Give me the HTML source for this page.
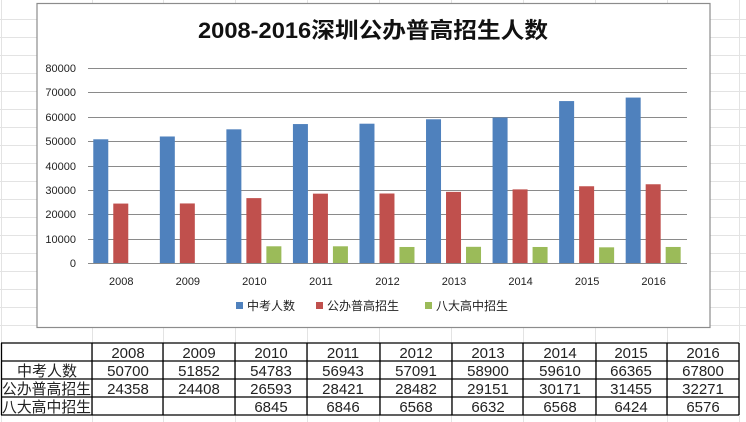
<!DOCTYPE html>
<html><head><meta charset="utf-8"><style>
body{margin:0;width:746px;height:422px;background:#fff;overflow:hidden}
svg{display:block}
</style></head><body>
<svg width="746" height="422" xmlns="http://www.w3.org/2000/svg" font-family="Liberation Sans, Noto Sans CJK SC, sans-serif">
<g stroke="#e3e3e3" stroke-width="1">
<line x1="0" y1="19.5" x2="746" y2="19.5"/><line x1="0" y1="37.5" x2="746" y2="37.5"/><line x1="0" y1="55.5" x2="746" y2="55.5"/><line x1="0" y1="73.5" x2="746" y2="73.5"/><line x1="0" y1="91.5" x2="746" y2="91.5"/><line x1="0" y1="109.5" x2="746" y2="109.5"/><line x1="0" y1="127.5" x2="746" y2="127.5"/><line x1="0" y1="145.5" x2="746" y2="145.5"/><line x1="0" y1="163.5" x2="746" y2="163.5"/><line x1="0" y1="181.5" x2="746" y2="181.5"/><line x1="0" y1="199.5" x2="746" y2="199.5"/><line x1="0" y1="217.5" x2="746" y2="217.5"/><line x1="0" y1="235.5" x2="746" y2="235.5"/><line x1="0" y1="253.5" x2="746" y2="253.5"/><line x1="0" y1="271.5" x2="746" y2="271.5"/><line x1="0" y1="289.5" x2="746" y2="289.5"/><line x1="0" y1="307.5" x2="746" y2="307.5"/><line x1="0" y1="325.5" x2="746" y2="325.5"/>
<line x1="1.5" y1="0" x2="1.5" y2="422"/><line x1="92.5" y1="0" x2="92.5" y2="422"/><line x1="163.5" y1="0" x2="163.5" y2="422"/><line x1="235.5" y1="0" x2="235.5" y2="422"/><line x1="307.5" y1="0" x2="307.5" y2="422"/><line x1="379.5" y1="0" x2="379.5" y2="422"/><line x1="451.5" y1="0" x2="451.5" y2="422"/><line x1="523.5" y1="0" x2="523.5" y2="422"/><line x1="595.5" y1="0" x2="595.5" y2="422"/><line x1="667.5" y1="0" x2="667.5" y2="422"/><line x1="739.5" y1="0" x2="739.5" y2="422"/>
</g>
<rect x="37" y="3.5" width="673" height="324" fill="#fff" stroke="#8c8c8c" stroke-width="1.2"/>
<text x="198" y="38" textLength="350" lengthAdjust="spacingAndGlyphs" font-size="22" font-weight="bold" fill="#111">2008-2016深圳公办普高招生人数</text>
<g stroke="#8a8a8a" stroke-width="1">
<line x1="88" y1="68.5" x2="687" y2="68.5"/><line x1="88" y1="92.5" x2="687" y2="92.5"/><line x1="88" y1="117.5" x2="687" y2="117.5"/><line x1="88" y1="141.5" x2="687" y2="141.5"/><line x1="88" y1="166.5" x2="687" y2="166.5"/><line x1="88" y1="190.5" x2="687" y2="190.5"/><line x1="88" y1="214.5" x2="687" y2="214.5"/><line x1="88" y1="239.5" x2="687" y2="239.5"/><line x1="88" y1="263.5" x2="687" y2="263.5"/>
</g>
<g font-size="11" fill="#222" text-anchor="end">
<text x="76" y="72">80000</text><text x="76" y="96">70000</text><text x="76" y="121">60000</text><text x="76" y="145">50000</text><text x="76" y="170">40000</text><text x="76" y="194">30000</text><text x="76" y="218">20000</text><text x="76" y="243">10000</text><text x="76" y="267">0</text>
</g>
<g id="bars"></g>
<g font-size="11" fill="#222" text-anchor="middle" id="xl"></g>
<g font-size="12" fill="#222">
<rect x="236" y="302" width="7" height="7" fill="#4f81bd"/><text x="247" y="310">中考人数</text>
<rect x="316" y="302" width="7" height="7" fill="#c0504d"/><text x="327" y="310">公办普高招生</text>
<rect x="425" y="302" width="7" height="7" fill="#9bbb59"/><text x="436" y="310">八大高中招生</text>
</g>
<g stroke="#000" stroke-width="1.3">
<line x1="1" y1="343" x2="739" y2="343"/><line x1="1" y1="361" x2="739" y2="361"/><line x1="1" y1="379" x2="739" y2="379"/><line x1="1" y1="397" x2="739" y2="397"/><line x1="1" y1="415" x2="739" y2="415"/>
<line x1="1.5" y1="343" x2="1.5" y2="415"/><line x1="92" y1="343" x2="92" y2="415"/><line x1="163" y1="343" x2="163" y2="415"/><line x1="235" y1="343" x2="235" y2="415"/><line x1="307" y1="343" x2="307" y2="415"/><line x1="380" y1="343" x2="380" y2="415"/><line x1="452" y1="343" x2="452" y2="415"/><line x1="523" y1="343" x2="523" y2="415"/><line x1="596" y1="343" x2="596" y2="415"/><line x1="667" y1="343" x2="667" y2="415"/><line x1="739" y1="343" x2="739" y2="415"/>
</g>
<g font-size="15" fill="#222" id="tbl"></g>
</svg>
<script>
var ns="http://www.w3.org/2000/svg";
var A=[50700,51852,54783,56943,57091,58900,59610,66365,67800],B=[24358,24408,26593,28421,28482,29151,30171,31455,32271],C=[null,null,6845,6846,6568,6632,6568,6424,6576];
var cols=["#4f81bd","#c0504d","#9bbb59"];
var bars=document.getElementById("bars"),xl=document.getElementById("xl"),tb=document.getElementById("tbl");
function el(p,t,a,txt){var e=document.createElementNS(ns,t);for(var k in a)e.setAttribute(k,a[k]);if(txt!=null)e.textContent=txt;p.appendChild(e);}
var cx=[128,199,271,343,416,488,560,631,703];
for(var i=0;i<9;i++){
 var c=88+66.55*(i+0.5);
 [A,B,C].forEach(function(s,j){if(s[i]==null)return;var h=s[i]/10000*24.4;el(bars,"rect",{x:c-28+j*20,y:263-h,width:15,height:h,fill:cols[j]});});
 el(xl,"text",{x:c,y:285},String(2008+i));
 el(tb,"text",{x:cx[i],y:358,"text-anchor":"middle"},String(2008+i));
 el(tb,"text",{x:cx[i],y:376,"text-anchor":"middle"},String(A[i]));
 el(tb,"text",{x:cx[i],y:394,"text-anchor":"middle"},String(B[i]));
 if(C[i]!=null)el(tb,"text",{x:cx[i],y:412,"text-anchor":"middle"},String(C[i]));
}
el(tb,"text",{x:47,y:376,"text-anchor":"middle"},"中考人数");
el(tb,"text",{x:2,y:394,textLength:89,lengthAdjust:"spacingAndGlyphs"},"公办普高招生");
el(tb,"text",{x:2,y:412,textLength:89,lengthAdjust:"spacingAndGlyphs"},"八大高中招生");
</script>
</body></html>
